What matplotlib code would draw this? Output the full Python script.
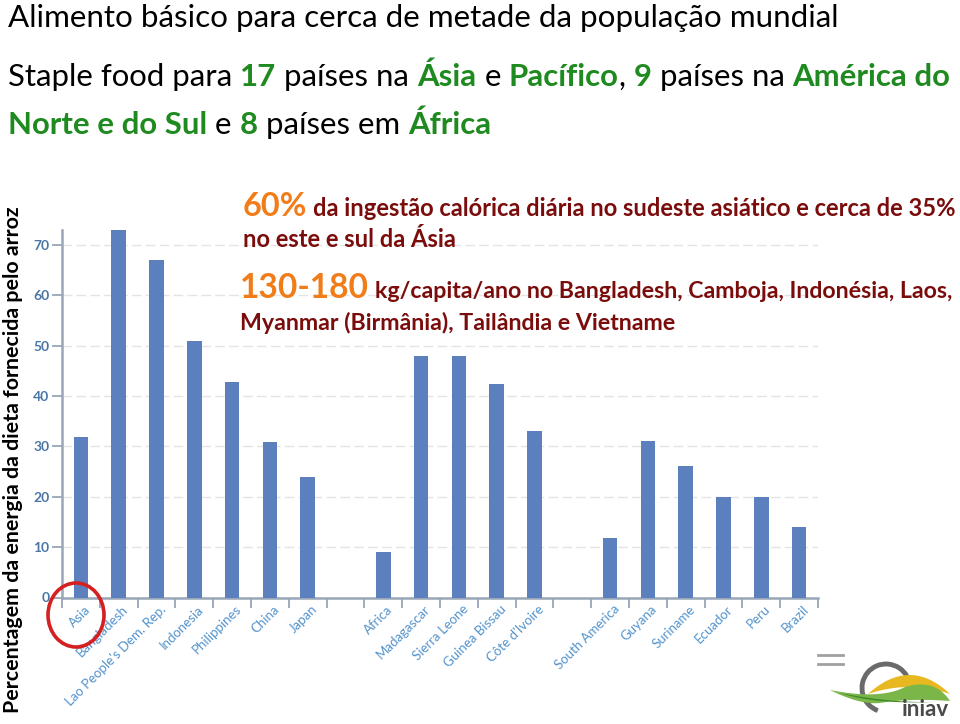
import matplotlib
matplotlib.use('Agg')
import matplotlib.pyplot as plt
from matplotlib.patches import Ellipse, Polygon, Arc
import matplotlib.transforms as mtransforms
import numpy as np

# ---------------- data ----------------
categories = ["Asia", "Bangladesh", "Lao People's Dem. Rep.", "Indonesia", "Philippines",
              "China", "Japan",
              "Africa", "Madagascar", "Sierra Leone", "Guinea Bissau", "Côte d'Ivoire",
              "South America", "Guyana", "Suriname", "Ecuador", "Peru", "Brazil"]
values = [31.8, 73.0, 67.0, 51.0, 42.8, 30.8, 24.0,
          9.0, 48.0, 48.0, 42.4, 33.0,
          11.9, 31.0, 26.1, 20.0, 20.0, 14.0]
group_sizes = [7, 5, 6]
y_ticks = [0, 10, 20, 30, 40, 50, 60, 70]

y_label = "Percentagem da energia da dieta fornecida pelo arroz"
title = "Alimento básico para cerca de metade da população mundial"

W, H = 960, 724
FONT = "Lato"
GREEN = "#1f8a1f"
ORANGE = "#f07d1a"
DARKRED = "#7b0c0c"
BAR = "#5b80bd"
AXC = "#98a6b8"
TICKLAB = "#5393cc"
YTICKLAB = "#4a76a6"

fig = plt.figure(figsize=(W / 100, H / 100), dpi=100)
fig.patch.set_facecolor("white")
renderer = fig.canvas.get_renderer()

# positions with one empty slot between groups
positions = []
start = 0
for g in group_sizes:
    positions.extend(range(start, start + g))
    start += g + 1
nslots = start - 1

# ---------------- axes ----------------
ax_l, ax_r, ax_b, ax_t = 62, 818, 597.5, 230
ax = fig.add_axes([ax_l / W, 1 - ax_b / H, (ax_r - ax_l) / W, (ax_b - ax_t) / H])
ax.bar(positions, values, width=0.39, color=BAR, zorder=3)
ax.set_xlim(-0.5, nslots - 0.5)
ax.set_ylim(0, 73)
ax.set_yticks(y_ticks)
ax.set_yticklabels([str(v) for v in y_ticks], color=YTICKLAB, fontsize=10,
                   fontweight="bold", family=FONT)
ax.yaxis.grid(True, color="#e4e4e4", linestyle=(0, (7, 3)), linewidth=1.0, zorder=0)
ax.set_axisbelow(True)
for s in ["top", "right"]:
    ax.spines[s].set_visible(False)
ax.spines["left"].set_color(AXC)
ax.spines["left"].set_linewidth(1.8)
ax.spines["bottom"].set_color(AXC)
ax.spines["bottom"].set_linewidth(1.8)
ax.tick_params(axis="y", length=7, width=1.3, color=AXC, pad=2)
ax.set_xticks(positions)
ax.set_xticklabels(categories, rotation=45, ha="right", va="top",
                   rotation_mode="anchor", color=TICKLAB, fontsize=9.5, family=FONT)
ax.tick_params(axis="x", which="major", length=0, pad=4)
ax.set_xticks(np.arange(-0.5, nslots, 1.0), minor=True)
ax.tick_params(axis="x", which="minor", length=7, width=1.3, color=AXC)
offset = mtransforms.ScaledTranslation(3 / 100, 0, fig.dpi_scale_trans)
for lab in ax.get_xticklabels():
    lab.set_transform(lab.get_transform() + offset)


# ---------------- text helpers ----------------
def adv(txt, **kw):
    t1 = fig.text(0, 0, "|" + txt + "|", **kw)
    t2 = fig.text(0, 0, "||", **kw)
    w = t1.get_window_extent(renderer).width - t2.get_window_extent(renderer).width
    t1.remove()
    t2.remove()
    return w


def rich(x, y, runs, target_w=None, scale=None):
    if scale is None:
        total = sum(adv(t, fontsize=s, fontweight=w, family=FONT) for t, s, c, w in runs)
        scale = target_w / total
    cur = x
    for t, s, c, w in runs:
        kw = dict(fontsize=s * scale, fontweight=w, family=FONT)
        lead = len(t) - len(t.lstrip(" "))
        xd = cur + (adv(" " * lead, **kw) if lead else 0)
        fig.text(xd / W, 1 - y / H, t.strip(" "), color=c, ha="left", va="baseline", **kw)
        cur += adv(t, **kw)
    return scale


# title lines
rich(8, 27, [(title, 20, "black", "normal")], target_w=832)
sc = rich(8, 86, [("Staple food para ", 20, "black", "normal"),
                  ("17", 20, GREEN, "bold"),
                  (" países na ", 20, "black", "normal"),
                  ("Ásia", 20, GREEN, "bold"),
                  (" e ", 20, "black", "normal"),
                  ("Pacífico", 20, GREEN, "bold"),
                  (", ", 20, "black", "normal"),
                  ("9", 20, GREEN, "bold"),
                  (" países na ", 20, "black", "normal"),
                  ("América do", 20, GREEN, "bold")], target_w=942)
rich(8, 134, [("Norte e do Sul", 20, GREEN, "bold"),
              (" e ", 20, "black", "normal"),
              ("8", 20, GREEN, "bold"),
              (" países em ", 20, "black", "normal"),
              ("África", 20, GREEN, "bold")], scale=sc)

# overlay lines
sc2 = rich(243, 216, [("60%", 26, ORANGE, "bold"),
                      (" da ingestão calórica diária no sudeste asiático e cerca de 35%", 19,
                       DARKRED, "bold")], target_w=712)
rich(243, 247, [("no este e sul da Ásia", 19, DARKRED, "bold")], scale=sc2)
sc3 = rich(240, 298, [("130-180", 29, ORANGE, "bold"),
                      (" kg/capita/ano no Bangladesh, Camboja, Indonésia, Laos,", 20,
                       DARKRED, "bold")], target_w=712)
rich(240, 330, [("Myanmar (Birmânia), Tailândia e Vietname", 20, DARKRED, "bold")], scale=sc3)

# y label
tw = adv(y_label, fontsize=12, fontweight="bold", family=FONT)
fig.text(13 / W, 1 - 460 / H, y_label, rotation=90, ha="center", va="center",
         fontsize=12 * 505 / tw, fontweight="bold", family=FONT, color="black")

# red circle around "Asia"
fig.patches.append(Ellipse((76 / W, 1 - 615 / H), 56 / W, 64 / H, fill=False,
                           edgecolor="#d42020", linewidth=2.6,
                           transform=fig.transFigure, figure=fig))

# ---------------- logo (approximation) ----------------
lx0, lx1, ly0, ly1 = 812, 960, 640, 724
lax = fig.add_axes([lx0 / W, 1 - ly1 / H, (lx1 - lx0) / W, (ly1 - ly0) / H])
lax.set_xlim(lx0, lx1)
lax.set_ylim(ly1, ly0)
lax.axis("off")
lax.plot([818, 843], [655, 655], color="#a0a0a0", lw=2)
lax.plot([818, 843], [664, 664], color="#a0a0a0", lw=2)
lax.add_patch(Arc((886, 688), 48, 48, theta1=110, theta2=330, color="#6a6a6a", lw=3.5))


def bez(p0, p1, p2, n=30):
    t = np.linspace(0, 1, n)[:, None]
    return (1 - t) ** 2 * np.array(p0) + 2 * (1 - t) * t * np.array(p1) + t ** 2 * np.array(p2)


yel = np.vstack([bez((868, 694), (910, 656), (950, 694)), bez((950, 694), (910, 680), (868, 694))])
lax.add_patch(Polygon(yel, closed=True, color="#e8b820", lw=0))
grn_top = np.vstack([bez((830, 690), (880, 700), (905, 687)), bez((905, 687), (935, 678), (950, 701))])
grn_bot = np.vstack([bez((950, 701), (910, 698), (880, 703)), bez((880, 703), (860, 705), (830, 690))])
lax.add_patch(Polygon(np.vstack([grn_top, grn_bot]), closed=True, color="#7ab648", lw=0))
grn_dark = np.vstack([bez((840, 693), (880, 706), (950, 701)), bez((950, 701), (900, 705), (840, 693))])
lax.add_patch(Polygon(grn_dark, closed=True, color="#3e8a2a", lw=0))
lax.text(925, 716, "iniav", ha="center", va="baseline", fontsize=16, fontweight="bold",
         color="#4a4a4a", family=FONT, clip_on=False)

fig.savefig("out.png", dpi=100, facecolor="white")
